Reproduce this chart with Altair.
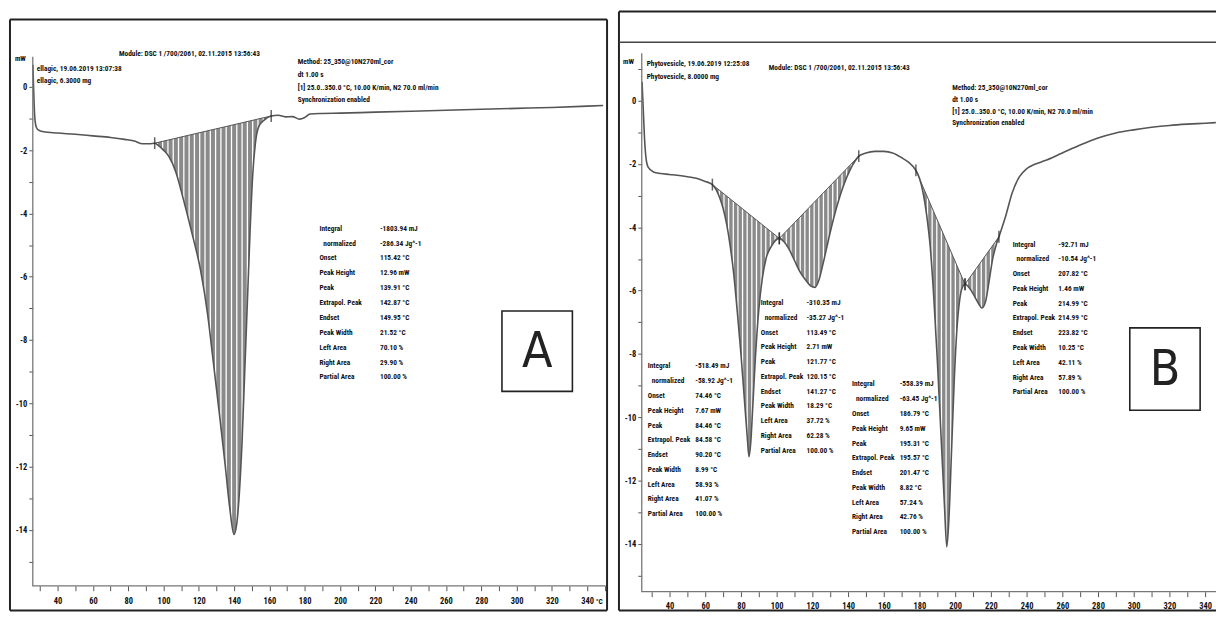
import altair as alt
import numpy as np
import pandas as pd

FONT = "Roboto Condensed, Liberation Sans Narrow, DejaVu Sans Condensed, sans-serif"
BIG_FONT = "DejaVu Sans Condensed, DejaVu Sans, sans-serif"

# ---------------- Panel A : ellagic acid ----------------
A_T = [26.0, 26.5, 27.0, 27.8, 29.0, 32.0, 40.0, 50.0, 60.0, 70.0, 78.0, 84.0, 88.0, 92.0, 95.0,
       97.0, 100.0, 103.0, 107.0, 111.0, 116.0, 121.0, 125.0, 128.0, 132.0, 135.0, 137.5, 139.9,
       141.5, 143.0, 144.5, 146.0, 147.5, 149.0, 150.5, 152.0, 154.0, 157.0, 161.0,
       165.0, 169.0, 173.0, 177.0, 180.0, 183.0, 190.0, 200.0, 220.0, 240.0,
       260.0, 280.0, 300.0, 320.0, 340.0, 349.0]
A_MW = [0.70, -0.20, -0.90, -1.25, -1.36, -1.42, -1.46, -1.50, -1.55, -1.60, -1.66, -1.72, -1.80, -1.80, -1.78,
        -1.85, -2.00, -2.20, -2.70, -3.50, -4.60, -5.80, -7.20, -8.60, -10.50, -12.00, -13.30, -14.15,
        -13.80, -12.80, -11.20, -9.00, -6.80, -4.60, -2.80, -1.80, -1.25, -1.05, -0.92,
        -0.90, -0.95, -0.94, -1.02, -0.97, -0.86, -0.84, -0.83, -0.80, -0.77,
        -0.74, -0.71, -0.68, -0.65, -0.61, -0.59]
A_LIMITS = [(95.0, -1.78, 161.0, -0.92)]

# ---------------- Panel B : phytovesicle ----------------
B_T = [24.6, 25.3, 26.0, 26.8, 28.0, 31.0, 35.0, 40.0, 50.0, 55.0, 60.0, 64.0,
       66.0, 68.0, 70.0, 72.0, 74.0, 76.0, 78.0, 80.0, 82.0, 83.5, 84.5, 85.5, 86.5, 88.0, 90.0, 92.0, 94.0, 97.0, 101.5,
       104.0, 107.0, 110.0, 113.0, 116.0, 119.0, 121.5, 123.5, 126.0, 129.0, 132.0, 135.0, 138.0, 141.0, 144.0, 146.0,
       150.0, 155.0, 160.0, 165.0, 170.0, 174.0, 178.0,
       180.0, 182.0, 184.0, 186.0, 188.0, 190.0, 192.0, 194.0, 195.3, 196.5, 198.0, 199.5, 201.0, 202.5, 204.0, 205.5,
       207.0, 209.0, 211.0, 213.0, 215.0, 217.0, 219.0, 221.0, 223.0, 224.5,
       228.0, 232.0, 236.0, 240.0, 245.0, 250.0, 260.0, 270.0, 280.0, 290.0, 300.0, 310.0, 320.0, 330.0, 340.0, 346.0]
B_MW = [0.60, -0.30, -1.20, -1.80, -2.10, -2.25, -2.30, -2.33, -2.40, -2.45, -2.55, -2.65,
        -2.80, -3.05, -3.40, -3.90, -4.60, -5.50, -6.70, -8.00, -9.50, -10.60, -11.25, -10.80, -9.80, -8.20, -6.60, -5.60, -5.00, -4.60, -4.35,
        -4.45, -4.70, -5.05, -5.40, -5.65, -5.85, -5.90, -5.70, -5.15, -4.40, -3.70, -3.10, -2.60, -2.20, -1.90, -1.75,
        -1.65, -1.60, -1.60, -1.65, -1.80, -1.95, -2.20,
        -2.45, -2.90, -3.60, -4.60, -6.20, -8.20, -10.50, -12.80, -14.10, -13.20, -11.00, -8.80, -7.20, -6.30, -5.90, -5.80,
        -5.85, -6.00, -6.20, -6.40, -6.55, -6.35, -5.70, -5.00, -4.55, -4.30,
        -3.70, -2.90, -2.40, -2.15, -2.00, -1.90, -1.65, -1.40, -1.18, -1.02, -0.92, -0.84, -0.78, -0.74, -0.71, -0.69]
B_LIMITS = [(64.0, -2.65, 101.5, -4.35), (101.5, -4.35, 146.0, -1.75),
            (178.0, -2.20, 205.5, -5.80), (205.5, -5.80, 224.5, -4.30)]

# ---------------- result tables ----------------
ROW_LABELS = ["Integral", "normalized", "Onset", "Peak Height", "Peak", "Extrapol. Peak",
              "Endset", "Peak Width", "Left Area", "Right Area", "Partial Area"]
ROW_INDENT = [0, 1, 0, 0, 0, 0, 0, 0, 0, 0, 0]
A_VALUES = ["-1803.94 mJ", "-286.34 Jg^-1", "115.42 °C", "12.96 mW", "139.91 °C", "142.87 °C",
            "149.95 °C", "21.52 °C", "70.10 %", "29.90 %", "100.00 %"]
B1_VALUES = ["-518.49 mJ", "-58.92 Jg^-1", "74.46 °C", "7.67 mW", "84.46 °C", "84.58 °C",
             "90.20 °C", "8.99 °C", "58.93 %", "41.07 %", "100.00 %"]
B2_VALUES = ["-310.35 mJ", "-35.27 Jg^-1", "113.49 °C", "2.71 mW", "121.77 °C", "120.15 °C",
             "141.27 °C", "18.29 °C", "37.72 %", "62.28 %", "100.00 %"]
B3_VALUES = ["-558.39 mJ", "-63.45 Jg^-1", "186.79 °C", "9.65 mW", "195.31 °C", "195.57 °C",
             "201.47 °C", "8.82 °C", "57.24 %", "42.76 %", "100.00 %"]
B4_VALUES = ["-92.71 mJ", "-10.54 Jg^-1", "207.82 °C", "1.46 mW", "214.99 °C", "214.99 °C",
             "223.82 °C", "10.25 °C", "42.11 %", "57.89 %", "100.00 %"]

A_HEADER = ["ellagic, 19.06.2019 13:07:38", "ellagic, 6.3000 mg"]
B_HEADER = ["Phytovesicle, 19.06.2019 12:25:08", "Phytovesicle, 8.0000 mg"]
MODULE = "Module: DSC 1 /700/2061, 02.11.2015 13:56:43"
METHOD = ["Method: 25_350@10N270ml_cor", "dt 1.00 s",
          "[1] 25.0..350.0 °C, 10.00 K/min, N2 70.0 ml/min", "Synchronization enabled"]

X_TICKS = list(range(30, 351, 10))
TXT_SIZE = 7.4

one = pd.DataFrame({"k": [0]})


def vrule(x, y1, y2, w=2.0, c="#222"):
    return alt.Chart(one).mark_rule(color=c, strokeWidth=w).encode(
        x=alt.value(x), y=alt.value(y1), y2=alt.value(y2))


def hrule(y, x1, x2, w=2.0, c="#222"):
    return alt.Chart(one).mark_rule(color=c, strokeWidth=w).encode(
        y=alt.value(y), x=alt.value(x1), x2=alt.value(x2))


def panel(T, V, limits, cfg):
    sx = alt.Scale(domain=cfg["xdom"], nice=False, zero=False)
    sy = alt.Scale(domain=cfg["ydom"], nice=False, zero=False)
    xaxis = alt.Axis(title=None, values=X_TICKS,
                     labelExpr="datum.value % 20 == 0 && datum.value >= 40 && datum.value <= 340 ? '' + datum.value : ''",
                     offset=cfg["xoff"], domain=False, grid=False, tickSize=5, tickColor="#555",
                     labelFont=FONT, labelFontSize=8.5, labelFontWeight="bold", labelColor="#111",
                     labelPadding=cfg["xlabpad"], labelOverlap=False, labelFlush=False)
    yaxis = alt.Axis(title=None, values=cfg["yticks"],
                     labelExpr="datum.value % 2 == 0 ? '' + datum.value : ''",
                     offset=cfg["yoff"], domain=False, grid=False, tickSize=4, tickColor="#555",
                     labelFont=FONT, labelFontSize=8.5, labelFontWeight="bold", labelColor="#111",
                     labelPadding=2, labelOverlap=False, labelFlush=False)

    def X(f):
        return alt.X(f, type="quantitative", scale=sx, axis=xaxis)

    def Y(f):
        return alt.Y(f, type="quantitative", scale=sy, axis=yaxis)

    curve = pd.DataFrame({"T": T, "mW": V})

    # peak regions between curve and integration baseline
    rows = []
    hatch = []
    for i, (t0, v0, t1, v1) in enumerate(limits):
        sel = curve[(curve["T"] >= t0) & (curve["T"] <= t1)]
        for t, v in zip(sel["T"], sel["mW"]):
            rows.append({"peak": i, "T": t, "mW": v, "base": v0 + (v1 - v0) * (t - t0) / (t1 - t0)})
        lo = sel["mW"].min() - 0.3
        hi = max(v0, v1) + 0.3
        for t in np.arange(t0 + cfg["hatch"] / 2, t1, cfg["hatch"]):
            hatch.append({"T": t, "top": hi, "bot": lo})
    peaks = pd.DataFrame(rows)
    hatch = pd.DataFrame(hatch)
    base = pd.DataFrame([{"peak": i, "T": t, "mW": v} for i, (t0, v0, t1, v1) in enumerate(limits)
                         for t, v in ((t0, v0), (t1, v1))])

    layers = list(cfg["frames"])

    layers.append(alt.Chart(peaks).mark_area(color="#8a8a8a", interpolate="monotone").encode(
        x=X("T"), y=Y("mW"), y2=alt.Y2("base"), detail="peak:N"))
    layers.append(alt.Chart(hatch).mark_rule(color="white", strokeWidth=1.3).encode(
        x=X("T"), y=Y("top"), y2=alt.Y2("bot")))
    layers.append(alt.Chart(base).mark_line(color="#555", strokeWidth=1).encode(
        x=X("T"), y=Y("mW"), detail="peak:N"))
    layers.append(alt.Chart(curve).mark_line(color="#555", strokeWidth=1.6, interpolate="monotone").encode(
        x=X("T"), y=Y("mW")))
    layers.append(alt.Chart(base).mark_tick(orient="vertical", color="#222", size=12, thickness=1.5).encode(
        x=X("T"), y=Y("mW")))

    # axis lines
    ax = pd.DataFrame({"T": [cfg["axT"], cfg["axT"], cfg["xend"]],
                       "mW": [cfg["ytop"], cfg["axV"], cfg["axV"]],
                       "idx": [0, 1, 2]})
    layers.append(alt.Chart(ax).mark_line(color="#777", strokeWidth=1.3).encode(
        x=X("T"), y=Y("mW"), order="idx:Q"))

    # small texts
    txt = pd.DataFrame(cfg["texts"], columns=["T", "mW", "text"])
    layers.append(alt.Chart(txt).mark_text(align="left", baseline="middle", font=FONT, fontSize=TXT_SIZE,
                                           fontWeight="bold", color="#111").encode(
        x=X("T"), y=Y("mW"), text="text:N"))

    # letter box
    bx = pd.DataFrame([cfg["box"]], columns=["x1", "x2", "y1", "y2", "label"])
    layers.append(alt.Chart(bx).mark_rect(fillOpacity=0, stroke="#222", strokeWidth=1.6).encode(
        x=X("x1"), x2=alt.X2("x2"), y=Y("y1"), y2=alt.Y2("y2")))
    bx["cx"] = (bx["x1"] + bx["x2"]) / 2
    bx["cy"] = (bx["y1"] + bx["y2"]) / 2
    layers.append(alt.Chart(bx).mark_text(font=BIG_FONT, fontSize=50, color="#222", baseline="middle",
                                          align="center", dy=1).encode(
        x=X("cx"), y=Y("cy"), text="label:N"))

    return alt.layer(*layers).properties(width=cfg["W"], height=cfg["H"])


def table(t_lab, t_val, v0, step, values, indent):
    out = []
    for i, (lab, ind, val) in enumerate(zip(ROW_LABELS, ROW_INDENT, values)):
        out.append((t_lab + ind * indent, v0 - i * step, lab))
        out.append((t_val, v0 - i * step, val))
    return out


H = 606
W_A = 609
W_B = 609

# panel A  (px = 58 + (T-40)*1.78 ; py = 85 - mW*31.9, page coords)
cfgA = dict(
    W=W_A, H=H,
    xdom=[11.91, 354.04], ydom=[-16.583, 2.414],
    xoff=-26, yoff=-25, xlabpad=6, hatch=3.0,
    yticks=list(range(-15, 1)),
    axT=25.955, axV=-15.77, ytop=0.95, xend=350.5,
    texts=[(15.84, 0.878, "mW"),
           (28.2, 0.564, A_HEADER[0]), (28.2, 0.188, A_HEADER[1]),
           (74.8, 1.034, MODULE),
           (176.0, 0.784, METHOD[0]), (176.0, 0.376, METHOD[1]),
           (176.0, -0.031, METHOD[2]), (176.0, -0.408, METHOD[3]),
           (344.8, -16.28, "°C")] + table(188.3, 222.6, -4.483, 0.470, A_VALUES, 2.2),
    box=(291.7, 331.6, -7.085, -9.624, "A"),
    frames=[vrule(2, 9, 605), vrule(604, 9, 605), hrule(9, 2, 604), hrule(605, 2, 604)],
)

# panel B  (px = 648 + (T-25)*1.80 ; py = 99 - mW*31.9, page coords)
cfgB = dict(
    W=W_B, H=H,
    xdom=[7.78, 346.11], ydom=[-16.144, 2.853],
    xoff=-20, yoff=-30, xlabpad=5, hatch=2.6,
    yticks=list(range(-15, 2)),
    axT=24.44, axV=-15.517, ytop=1.5, xend=346.11,
    texts=[(13.9, 1.22, "mW"),
           (27.2, 1.16, B_HEADER[0]), (27.2, 0.752, B_HEADER[1]),
           (95.6, 1.034, MODULE),
           (198.3, 0.408, METHOD[0]), (198.3, 0.031, METHOD[1]),
           (198.3, -0.345, METHOD[2]), (198.3, -0.690, METHOD[3])]
          + table(27.8, 54.4, -8.40, 0.467, B1_VALUES, 2.2)
          + table(91.1, 116.7, -6.395, 0.467, B2_VALUES, 2.2)
          + table(142.2, 168.9, -8.966, 0.467, B3_VALUES, 2.2)
          + table(232.2, 257.8, -4.545, 0.467, B4_VALUES, 2.2),
    box=(297.8, 337.2, -7.18, -9.78, "B"),
    frames=[vrule(7, 1, 605), hrule(1, 7, 609), hrule(32, 7, 609, w=1.5, c="#444"), hrule(605, 7, 609)],
)

chartA = panel(A_T, A_MW, A_LIMITS, cfgA)
chartB = panel(B_T, B_MW, B_LIMITS, cfgB)

chart = alt.hconcat(chartA, chartB, spacing=0, bounds="flush").properties(
    padding=0, background="white").configure_view(stroke=None)

chart.save("out.html", embed_options={"renderer": "svg", "actions": False})
